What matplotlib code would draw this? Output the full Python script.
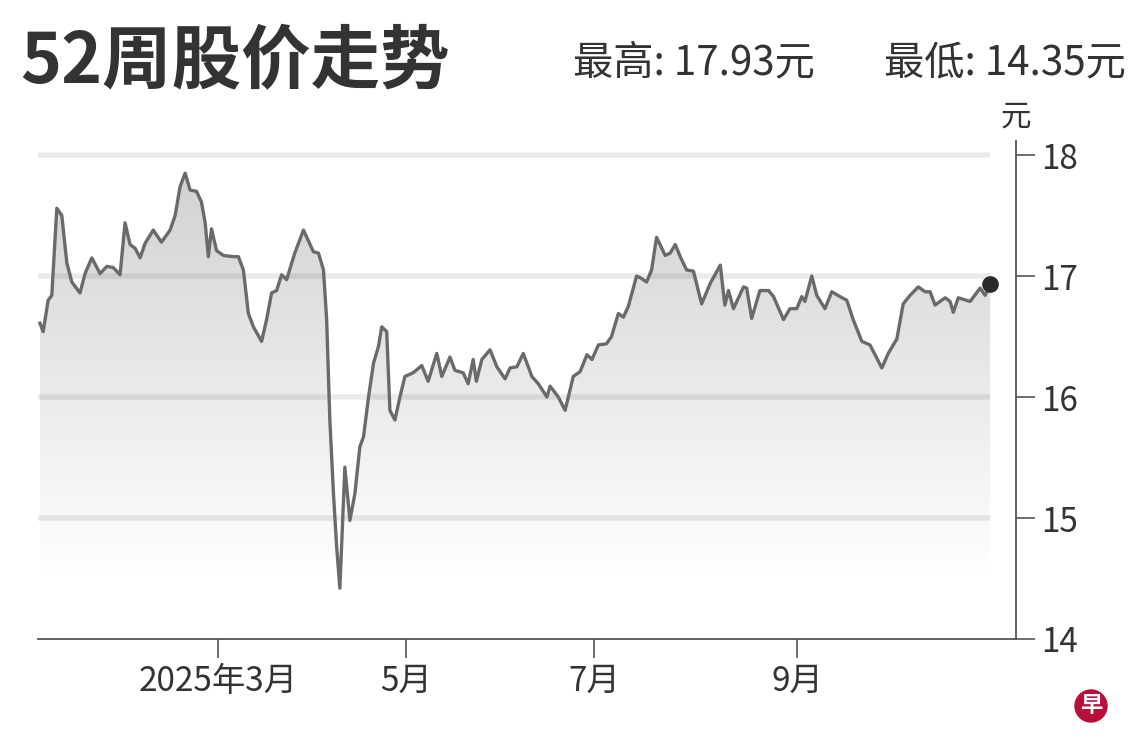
import numpy as np
import matplotlib.pyplot as plt
from matplotlib.colors import LinearSegmentedColormap
from matplotlib.patches import Circle

plt.rcParams['font.family'] = ['Noto Sans CJK SC', 'DejaVu Sans']

# trading-day index (0 = first session shown) and closing price
days = [0.0, 0.7, 1.8, 2.6, 3.7, 4.8, 5.9, 7.0, 8.8, 9.9, 11.4, 13.2, 14.7, 16.1, 17.6,
        18.7, 19.8, 20.9, 22.0, 23.1, 24.9, 26.7, 28.6, 29.7, 30.8, 31.9, 33.0, 34.4,
        35.5, 36.3, 37.0, 37.7, 38.8, 40.3, 42.5, 43.6, 44.7, 45.8, 46.9, 48.7, 49.8,
        50.9, 52.0, 53.1, 54.2, 56.0, 57.9, 60.1, 61.2, 62.3, 63.0, 63.7, 64.5, 65.2,
        65.9, 67.0, 68.1, 69.2, 70.3, 71.1, 72.2, 73.3, 74.4, 75.1, 76.2, 76.9, 78.0,
        79.1, 80.2, 82.0, 83.9, 85.3, 87.2, 88.3, 90.1, 91.2, 93.0, 94.1, 95.2, 95.9,
        97.1, 98.9, 100.4, 102.2, 103.3, 104.8, 106.2, 108.1, 109.5, 111.4, 112.1,
        113.9, 115.4, 117.2, 118.7, 120.2, 121.3, 122.7, 124.5, 125.6, 127.1, 128.2,
        129.3, 131.1, 132.2, 133.3, 134.4, 135.5, 137.4, 138.5, 139.6, 140.7, 142.1,
        143.6, 145.4, 147.3, 149.5, 150.5, 151.3, 152.4, 154.6, 155.3, 156.4, 158.2,
        160.1, 161.2, 163.4, 164.8, 166.3, 167.4, 168.1, 169.6, 170.7, 172.5, 174.0,
        175.8, 177.3, 178.7, 180.6, 182.4, 185.0, 186.4, 188.3, 189.7, 191.2, 193.0,
        194.5, 195.6, 196.7, 198.9, 200.0, 200.7, 201.8, 204.4, 206.6, 207.7, 208.8]
prices = [16.61, 16.54, 16.80, 16.84, 17.56, 17.50, 17.11, 16.95, 16.86, 17.02, 17.15,
          17.02, 17.08, 17.07, 17.01, 17.44, 17.26, 17.23, 17.15, 17.27, 17.38, 17.28,
          17.38, 17.50, 17.74, 17.85, 17.71, 17.70, 17.61, 17.44, 17.16, 17.39, 17.21,
          17.17, 17.16, 17.16, 17.05, 16.69, 16.58, 16.46, 16.64, 16.86, 16.88, 17.01,
          16.97, 17.19, 17.38, 17.20, 17.19, 17.05, 16.64, 15.81, 15.20, 14.76, 14.42,
          15.42, 14.98, 15.20, 15.59, 15.67, 16.00, 16.28, 16.42, 16.58, 16.54, 15.89,
          15.81, 16.00, 16.17, 16.20, 16.26, 16.13, 16.36, 16.17, 16.33, 16.22, 16.20,
          16.11, 16.31, 16.13, 16.31, 16.39, 16.25, 16.15, 16.24, 16.25, 16.36, 16.17,
          16.11, 16.00, 16.09, 16.00, 15.89, 16.17, 16.21, 16.35, 16.31, 16.43, 16.44,
          16.50, 16.69, 16.66, 16.75, 17.00, 16.98, 16.95, 17.05, 17.32, 17.17, 17.19,
          17.26, 17.16, 17.05, 17.04, 16.77, 16.94, 17.09, 16.76, 16.88, 16.73, 16.91,
          16.90, 16.65, 16.88, 16.88, 16.83, 16.64, 16.73, 16.73, 16.83, 16.79, 17.00,
          16.84, 16.73, 16.87, 16.83, 16.80, 16.64, 16.46, 16.43, 16.24, 16.36, 16.48,
          16.77, 16.84, 16.91, 16.87, 16.87, 16.76, 16.82, 16.79, 16.70, 16.82, 16.79,
          16.90, 16.84, 16.93]

month_pos = [39.2, 80.4, 121.8, 166.4]
month_labels = ['2025年3月', '5月', '7月', '9月']
y_ticks = [14, 15, 16, 17, 18]
high, low = 17.93, 14.35

fig = plt.figure(figsize=(11.4, 7.53), dpi=100)
ax = fig.add_axes([0.0333, 0.1514, 0.858, 0.662])

# grey gradient under the line, fading to white towards the bottom
poly = ax.fill_between(days, prices, 14, color='none', lw=0)
grad = np.linspace(1, 0, 256).reshape(-1, 1)
cmap = LinearSegmentedColormap.from_list('fade', ['#ffffff', '#d0d0d0'])
im = ax.imshow(grad, extent=[days[0], days[-1], 14.5, 18], aspect='auto',
               cmap=cmap, vmin=0, vmax=1, origin='upper', zorder=1)
im.set_clip_path(poly.get_paths()[0], transform=ax.transData)

xl = (-0.44, 214.5)
ax.hlines([15, 16, 17, 18], xl[0], days[-1], color='black', alpha=0.08, lw=4, zorder=2)

ax.plot(days, prices, color='#6a6a6a', lw=2.4, zorder=3)
ax.plot(days[-1], prices[-1], 'o', color='#2b2b2b', ms=11, zorder=4)

ax.set_xlim(*xl)
ax.set_ylim(14, 18.12)

for s in ['left', 'top']:
    ax.spines[s].set_visible(False)
for s in ['right', 'bottom']:
    ax.spines[s].set_color('#555555')
    ax.spines[s].set_linewidth(1.3)

ax.yaxis.tick_right()
ax.set_yticks(y_ticks)
ax.set_xticks(month_pos)
ax.set_xticklabels(month_labels)
ax.tick_params(axis='y', length=14, width=1.2, color='#555555', labelsize=24,
               labelcolor='#333333', pad=4)
ax.tick_params(axis='x', length=14, width=1.2, color='#555555', labelsize=24,
               labelcolor='#333333', pad=4)

fig.text(0.891, 0.845, '元', fontsize=22, color='#333333', ha='center', va='center')

fig.text(0.018, 0.918, '52周股价走势', fontsize=50, fontweight='bold',
         color='#333333', va='center')
fig.text(0.503, 0.916, f'最高: {high:.2f}元', fontsize=29, color='#333333', va='center')
fig.text(0.988, 0.916, f'最低: {low:.2f}元', fontsize=29, color='#333333',
         va='center', ha='right')

# logo
logo = Circle((10.91, 0.47), 0.16, transform=fig.dpi_scale_trans,
              color='#b80f3a', zorder=5)
fig.add_artist(logo)
fig.text(10.91 / 11.4, 0.47 / 7.53, '早', fontsize=16, fontweight='bold',
         color='white', ha='center', va='center', zorder=6)

fig.savefig('out.png', dpi=100, facecolor='white')
